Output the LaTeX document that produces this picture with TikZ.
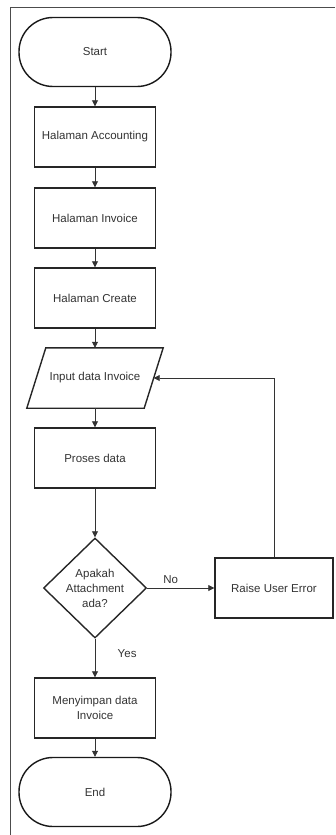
\documentclass[tikz,border=0pt]{standalone}
\usepackage{fontspec}
\setmainfont{Liberation Sans}
\usetikzlibrary{calc, arrows.meta, shapes.geometric}

\begin{document}
\begin{tikzpicture}[x=1pt, y=-1pt,
    every node/.style={font=\fontsize{11.5}{15}\selectfont, text=black!80},
    terminal/.style={draw=black!90, line width=1.4pt, rounded corners=34pt,
      minimum width=152pt, minimum height=69pt},
    procbox/.style={draw=black!85, line width=1.4pt, minimum width=121pt,
      minimum height=60pt, align=center},
    decbox/.style={draw=black!85, line width=1.4pt, diamond, inner sep=0pt,
      minimum width=103pt, minimum height=100pt, align=center},
    flow/.style={draw=black!80, line width=0.8pt, -{Triangle[length=6pt, width=6pt]}}]
  \useasboundingbox (0,0) rectangle (335,835);
  % bingkai halaman
  \draw[black!70, line width=0.9pt] (335,7) -- (10,7) -- (10,835);
  % simbol alur utama
  \node[terminal] (start) at (95,52) {Start};
  \node[procbox]  (acc)    at (95,137) {Halaman Accounting};
  \node[procbox]  (inv)    at (95,218) {Halaman Invoice};
  \node[procbox]  (create) at (95,298) {Halaman Create};
  \node[minimum width=117pt, minimum height=60pt] (inp) at (95,378) {Input data Invoice};
  \draw[black!85, line width=1.4pt]
    ($(inp.north west)+(9.5,0)$) -- ($(inp.north east)+(9.5,0)$) --
    ($(inp.south east)-(9.5,0)$) -- ($(inp.south west)-(9.5,0)$) -- cycle;
  \node[procbox]  (proses) at (95,458) {Proses data};
  \node[decbox]   (dec)    at (95,588) {Apakah\\Attachment\\ada?};
  \node[procbox, minimum width=118pt] (raise) at (274,588) {Raise User Error};
  \node[procbox]  (save)   at (95,708) {Menyimpan data\\Invoice};
  \node[terminal] (end)    at (95,792) {End};
  % panah
  \draw[flow] (start) -- (acc);
  \draw[flow] (acc) -- (inv);
  \draw[flow] (inv) -- (create);
  \draw[flow] (create) -- (inp);
  \draw[flow] (inp) -- (proses);
  \draw[flow] (proses) -- (dec);
  \draw[flow] (dec.east) -- node[pos=0.35, above=1pt] {No} (raise.west);
  \draw[flow] (raise.north) |- (inp.east);
  \draw[flow] (dec.south) -- node[pos=0.38, right=19pt] {Yes} (save.north);
  \draw[flow] (save) -- (end);
\end{tikzpicture}
\end{document}
